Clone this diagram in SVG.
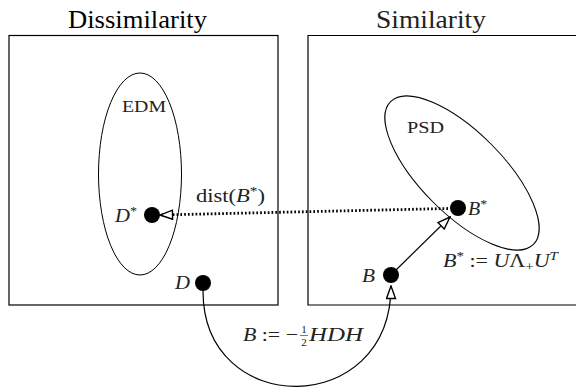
<svg xmlns="http://www.w3.org/2000/svg" width="576" height="388" viewBox="0 0 576 388">
<style>
.box{fill:none;stroke:#000;stroke-width:1.2}
.ell{fill:none;stroke:#000;stroke-width:1}
.dot{fill:#000}
.t{font-family:'Liberation Serif','Times New Roman',serif;fill:#222}
.m{font-family:'Liberation Serif','Times New Roman',serif;font-style:italic;fill:#222}
.u{font-style:normal}
.conn{fill:none;stroke:#000;stroke-width:1.2}
.dotted{fill:none;stroke:#000;stroke-width:2.8;stroke-dasharray:1.7 2.1}
</style>
<defs>
<marker id="open" viewBox="0 0 15 11" markerWidth="15" markerHeight="11" refX="14" refY="5.5" orient="auto" markerUnits="userSpaceOnUse">
<path d="M1.5,1 L14,5.5 L1.5,10 Z" fill="#fff" stroke="#000" stroke-width="1.4" stroke-dasharray="none"/>
</marker>
</defs>
<rect width="576" height="388" fill="#fff"/>
<g id="panel-dissimilarity">
<rect class="box" x="9" y="35.5" width="269" height="269.5"/>
<text class="t" x="68" y="28" font-size="25" fill="#000" style="fill:#000" textLength="139" lengthAdjust="spacingAndGlyphs">Dissimilarity</text>
<ellipse id="edm" class="ell" cx="140" cy="174" rx="41.5" ry="101"/>
<text class="t" x="122" y="112" font-size="17" textLength="44" lengthAdjust="spacingAndGlyphs">EDM</text>
</g>
<g id="panel-similarity">
<path class="box" d="M577,35.5 H308 V305 H577"/>
<text class="t" x="376" y="28" font-size="25" textLength="110" lengthAdjust="spacingAndGlyphs">Similarity</text>
<ellipse id="psd" class="ell" cx="462" cy="173" rx="101" ry="41" transform="rotate(45 462 173)"/>
<text class="t" x="407" y="133" font-size="17" textLength="37" lengthAdjust="spacingAndGlyphs">PSD</text>
</g>
<g id="connectors">
<path id="dist" class="dotted" d="M448,208.5 L160,215" marker-end="url(#open)"/>
<path id="proj" class="conn" d="M396,270 L450,217" marker-end="url(#open)"/>
<path id="center" class="conn" d="M203,291 C203,419 391,419 391,286" marker-end="url(#open)"/>
<text class="t" x="196" y="202" font-size="19" textLength="69" lengthAdjust="spacingAndGlyphs">dist(<tspan class="m">B</tspan><tspan font-size="13" dy="-7">*</tspan><tspan dy="7">)</tspan></text>
<text class="m" x="243" y="341" font-size="19" textLength="55" lengthAdjust="spacingAndGlyphs">B <tspan class="u">:= −</tspan></text>
<text class="t" x="304" y="333" font-size="11" text-anchor="middle">1</text>
<line x1="300" y1="335.5" x2="308" y2="335.5" stroke="#222" stroke-width="0.6"/>
<text class="t" x="304" y="346" font-size="11" text-anchor="middle">2</text>
<text class="m" x="309" y="341" font-size="19" textLength="54" lengthAdjust="spacingAndGlyphs">HDH</text>
</g>
<g id="node-Dstar">
<circle class="dot" cx="152" cy="215" r="8"/>
<text class="m" x="115" y="222" font-size="19" textLength="22" lengthAdjust="spacingAndGlyphs">D<tspan class="u" font-size="13" dy="-7">*</tspan></text>
</g>
<g id="node-D">
<circle class="dot" cx="203" cy="283" r="8"/>
<text class="m" x="175" y="289" font-size="19" textLength="15" lengthAdjust="spacingAndGlyphs">D</text>
</g>
<g id="node-B">
<circle class="dot" cx="391" cy="275" r="8"/>
<text class="m" x="362" y="282" font-size="19" textLength="13" lengthAdjust="spacingAndGlyphs">B</text>
</g>
<g id="node-Bstar">
<circle class="dot" cx="458" cy="208" r="8"/>
<text class="m" x="468" y="215" font-size="19" textLength="19" lengthAdjust="spacingAndGlyphs">B<tspan class="u" font-size="13" dy="-7">*</tspan></text>
<text class="m" x="443" y="267" font-size="19" textLength="115" lengthAdjust="spacingAndGlyphs">B<tspan class="u" font-size="13" dy="-7">*</tspan><tspan class="u" dy="7"> := </tspan>U<tspan class="u">Λ</tspan><tspan class="u" font-size="13" dy="4">+</tspan><tspan dy="-4">U</tspan><tspan font-size="13" dy="-7">T</tspan></text>
</g>
</svg>
